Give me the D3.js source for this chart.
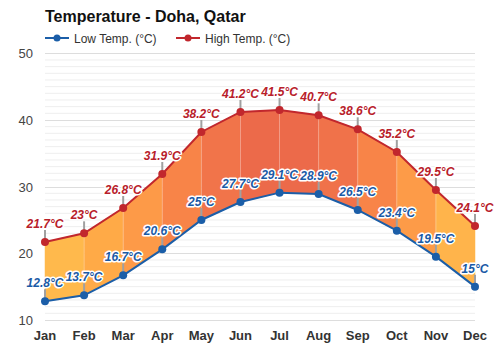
<!DOCTYPE html>
<html><head><meta charset="utf-8">
<script src="https://cdn.jsdelivr.net/npm/d3@7"></script>
<style>
body{margin:0;background:#fff;}
svg{display:block;font-family:"Liberation Sans",Arial,sans-serif;}
</style></head>
<body><svg id="c" width="500" height="350"></svg>
<script>
const months = ["Jan","Feb","Mar","Apr","May","Jun","Jul","Aug","Sep","Oct","Nov","Dec"];
const lowTemps = [12.8,13.7,16.7,20.6,25,27.7,29.1,28.9,26.5,23.4,19.5,15];
const highTemps = [21.7,23,26.8,31.9,38.2,41.2,41.5,40.7,38.6,35.2,29.5,24.1];
const yTicks = [10,20,30,40,50];
const seriesNames = ["Low Temp. (°C)","High Temp. (°C)"];
const titleText = "Temperature - Doha, Qatar";

const segColors = ["#ffb94c","#ffaa47","#fd9a48","#f88448","#f1744a","#ec6a4a","#ec6a4a","#f0724a","#f88448","#fd9b48","#ffb44b"];
const lowColor = "#1b5ea8", highColor = "#c1272d";
const lowText = "#1a5aa6", highText = "#b8202a";

const svg = d3.select("#c");
const x = d3.scalePoint().domain(months).range([45,475]);
const y = d3.scaleLinear().domain([10,50]).range([320,53.3]);

// minor grid
svg.append("g").selectAll("line").data(d3.range(10,51,1).filter(v=>v%10!==0)).join("line")
  .attr("x1",45).attr("x2",475).attr("y1",d=>y(d)).attr("y2",d=>y(d))
  .attr("stroke","#eeeeee").attr("stroke-width",1);
// major grid
svg.append("g").selectAll("line").data(yTicks).join("line")
  .attr("x1",45).attr("x2",475).attr("y1",d=>Math.round(y(d))+0.5).attr("y2",d=>Math.round(y(d))+0.5)
  .attr("stroke","#dddddd").attr("stroke-width",1);

// y tick labels
svg.append("g").selectAll("text").data(yTicks).join("text")
  .attr("x",33).attr("y",d=>y(d)+5).attr("text-anchor","end")
  .attr("font-size",13).attr("fill","#444").text(d=>d);

// x labels
svg.append("g").selectAll("text").data(months).join("text")
  .attr("x",d=>x(d)).attr("y",340).attr("text-anchor","middle")
  .attr("font-size",13).attr("font-weight","bold").attr("fill","#333").text(d=>d);

// segment fills
const segs = d3.range(months.length-1);
const area = d3.area().x(d=>x(d.m)).y0(d=>y(d.lo)).y1(d=>y(d.hi));
svg.append("g").selectAll("path").data(segs).join("path")
  .attr("d",i=>area([i,i+1].map(j=>({m:months[j],lo:lowTemps[j],hi:highTemps[j]}))))
  .attr("fill",i=>segColors[i]).attr("stroke",i=>segColors[i]).attr("stroke-width",0.5);

// faint vertical lines at months inside fill
svg.append("g").selectAll("line").data(months.slice(1,-1)).join("line")
  .attr("x1",d=>x(d)).attr("x2",d=>x(d))
  .attr("y1",(d,i)=>y(lowTemps[i+1])).attr("y2",(d,i)=>y(highTemps[i+1]))
  .attr("stroke","#fff").attr("stroke-opacity",0.3).attr("stroke-width",1);

// leader lines
function leaders(vals){
  svg.append("g").selectAll("line").data(vals).join("line")
    .attr("x1",(d,i)=>x(months[i])).attr("x2",(d,i)=>x(months[i]))
    .attr("y1",d=>y(d)).attr("y2",d=>y(d)-12)
    .attr("stroke","#a0a0a0").attr("stroke-width",2);
}
leaders(lowTemps); leaders(highTemps);

// lines
const line = d3.line().x((d,i)=>x(months[i])).y(d=>y(d));
svg.append("path").attr("d",line(highTemps)).attr("fill","none").attr("stroke",highColor).attr("stroke-width",2);
svg.append("path").attr("d",line(lowTemps)).attr("fill","none").attr("stroke",lowColor).attr("stroke-width",2);

// markers
svg.append("g").selectAll("circle").data(highTemps).join("circle")
  .attr("cx",(d,i)=>x(months[i])).attr("cy",d=>y(d)).attr("r",4).attr("fill",highColor);
svg.append("g").selectAll("circle").data(lowTemps).join("circle")
  .attr("cx",(d,i)=>x(months[i])).attr("cy",d=>y(d)).attr("r",4).attr("fill",lowColor);

// labels
function labels(vals,color){
  svg.append("g").selectAll("text").data(vals).join("text")
    .attr("x",(d,i)=>x(months[i])).attr("y",d=>y(d)-14)
    .attr("text-anchor","middle").attr("font-size",12).attr("font-weight","bold")
    .attr("font-style","italic").attr("fill",color)
    .attr("stroke","#fff").attr("stroke-width",3).attr("stroke-linejoin","round")
    .attr("paint-order","stroke").text(d=>d+"°C");
}
labels(highTemps,highText); labels(lowTemps,lowText);

// title
svg.append("text").attr("x",45).attr("y",22).attr("font-size",16).attr("font-weight","bold")
  .attr("fill","#111").text(titleText);

// legend
const lg = svg.append("g");
const legendX = [45,176];
[lowColor,highColor].forEach((c,i)=>{
  const gx = legendX[i];
  lg.append("line").attr("x1",gx).attr("x2",gx+24).attr("y1",38).attr("y2",38).attr("stroke",c).attr("stroke-width",2);
  lg.append("circle").attr("cx",gx+12).attr("cy",38).attr("r",3.5).attr("fill",c);
  lg.append("text").attr("x",gx+29).attr("y",42.5).attr("font-size",12).attr("fill","#333").text(seriesNames[i]);
});
</script></body></html>
